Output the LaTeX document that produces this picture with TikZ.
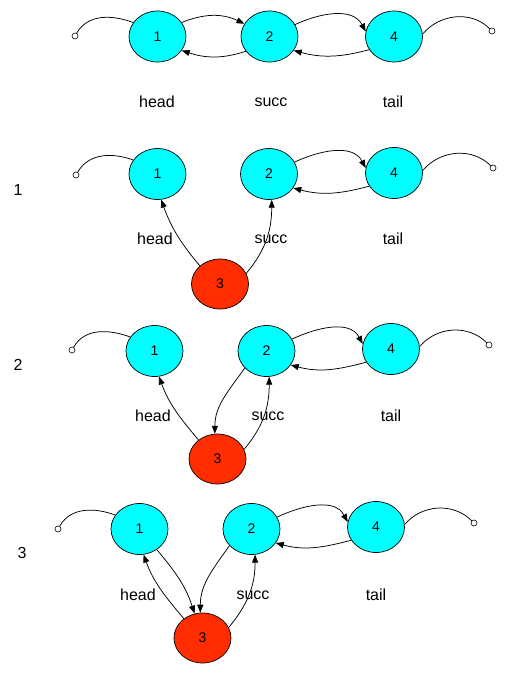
\documentclass[tikz,border=0pt]{standalone}
\usepackage{fontspec}
\setmainfont{Liberation Sans}
\usetikzlibrary{arrows.meta,shapes.geometric}
\definecolor{nodecyan}{RGB}{0,255,255}
\definecolor{nodered}{RGB}{255,45,0}
\tikzset{
  cell/.style={ellipse, draw, line width=0.7pt, fill=nodecyan, minimum width=57pt, minimum height=51pt, inner sep=0pt, font=\fontsize{14}{14}\selectfont},
  newcell/.style={cell, fill=nodered, minimum height=50pt},
  term/.style={circle, draw, line width=0.6pt, fill=white, minimum size=6pt, inner sep=0pt},
  lbl/.style={font=\fontsize{16}{16}\selectfont},
  wire/.style={line width=0.75pt},
  link/.style={line width=0.75pt, -{Triangle[length=8pt,width=6pt]}},
}
\begin{document}
\begin{tikzpicture}[x=1pt,y=1pt]
\useasboundingbox (0,0) rectangle (507,-676);
% ---------- panel 0 ----------
\node[cell] (a1) at (157.5,-36.5) {1};
\node[cell] (a2) at (269.5,-36.5) {2};
\node[cell] (a4) at (394,-36.5) {4};
\node[term] (atl) at (75,-36) {};
\node[term] (atr) at (492,-31) {};
\node[lbl] (ah) at (157,-102) {head};
\node[lbl] (as) at (271,-102) {succ};
\node[lbl] (at) at (393,-102) {tail};
\draw[wire] (atl) to[out=60,in=160] (a1.150);
\draw[wire] (a4.5) to[out=50,in=135] (atr);
\draw[link] (a1.30) to[out=22,in=155] (a2.153);
\draw[link] (a2.212) to[out=198,in=-18] (a1.-30);
\draw[link] (a2.25) to[out=25,in=118] (a4.170);
\draw[link] (a4.208) to[out=195,in=-15] (a2.-30);
% ---------- panel 1 ----------
\node[lbl] (bn) at (18,-190) {1};
\node[cell] (b1) at (157.5,-174) {1};
\node[cell] (b2) at (269,-174) {2};
\node[cell] (b4) at (394,-173) {4};
\node[newcell] (b3) at (220,-284) {3};
\node[term] (btl) at (76,-175) {};
\node[term] (btr) at (493,-168) {};
\node[lbl] (bh) at (155,-239) {head};
\node[lbl] (bs) at (271,-239) {succ};
\node[lbl] (bt) at (393,-239) {tail};
\draw[wire] (btl) to[out=60,in=160] (b1.150);
\draw[wire] (b4.5) to[out=50,in=135] (btr);
\draw[link] (b2.25) to[out=25,in=118] (b4.170);
\draw[link] (b4.208) to[out=195,in=-15] (b2.-30);
\draw[link] (b3.138) to[out=130,in=-70] (b1.-82);
\draw[link] (b3.22) to[out=50,in=-90] (b2.-84);
% ---------- panel 2 ----------
\node[lbl] (cn) at (18,-365) {2};
\node[cell] (c1) at (154.5,-351) {1};
\node[cell] (c2) at (266.5,-351) {2};
\node[cell] (c4) at (391,-349) {4};
\node[newcell] (c3) at (217.5,-459) {3};
\node[term] (ctl) at (72,-350) {};
\node[term] (ctr) at (489,-345) {};
\node[lbl] (ch) at (153,-416) {head};
\node[lbl] (cs) at (268,-416) {succ};
\node[lbl] (ct) at (391,-416) {tail};
\draw[wire] (ctl) to[out=60,in=160] (c1.150);
\draw[wire] (c4.5) to[out=50,in=135] (ctr);
\draw[link] (c2.25) to[out=25,in=118] (c4.170);
\draw[link] (c4.208) to[out=195,in=-15] (c2.-30);
\draw[link] (c3.135) to[out=130,in=-70] (c1.-80);
\draw[link] (c3.20) to[out=50,in=-90] (c2.-84);
\draw[link] (c2.218) to[out=235,in=90] (c3.96);
% ---------- panel 3 ----------
\node[lbl] (dn) at (22,-553) {3};
\node[cell] (d1) at (139.5,-529) {1};
\node[cell] (d2) at (251.5,-529) {2};
\node[cell] (d4) at (376,-527) {4};
\node[newcell] (d3) at (202.5,-638) {3};
\node[term] (dtl) at (58,-529) {};
\node[term] (dtr) at (474,-523) {};
\node[lbl] (dh) at (138,-595) {head};
\node[lbl] (ds) at (253,-595) {succ};
\node[lbl] (dt) at (376,-595) {tail};
\draw[wire] (dtl) to[out=60,in=160] (d1.150);
\draw[wire] (d4.5) to[out=50,in=135] (dtr);
\draw[link] (d2.25) to[out=25,in=118] (d4.170);
\draw[link] (d4.208) to[out=195,in=-15] (d2.-30);
\draw[link] (d3.134) to[out=130,in=-70] (d1.-81);
\draw[link] (d3.22) to[out=50,in=-90] (d2.-82);
\draw[link] (d1.-50) to[out=-50,in=108] (d3.108);
\draw[link] (d2.217) to[out=235,in=90] (d3.95);
\end{tikzpicture}
\end{document}
